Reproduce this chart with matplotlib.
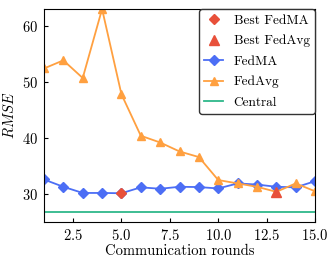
import matplotlib
matplotlib.use("Agg")
import matplotlib.pyplot as plt
import numpy as np

plt.rcParams['font.family'] = 'serif'
plt.rcParams['font.serif'] = ['cmr10']
plt.rcParams['mathtext.fontset'] = 'cm'
plt.rcParams['axes.formatter.use_mathtext'] = True
plt.rcParams['font.size'] = 10.5

rounds = list(range(1, 16))
fedma = [32.6, 31.3, 30.2, 30.2, 30.15, 31.2, 30.95, 31.3, 31.25, 31.0, 31.9, 31.7, 31.3, 31.2, 32.3]
fedavg = [52.4, 53.85, 50.7, 63.0, 47.8, 40.4, 39.2, 37.6, 36.6, 32.5, 31.9, 31.3, 30.4, 31.9, 30.5]
central = 26.8

best_ma = int(np.argmin(fedma))
best_avg = int(np.argmin(fedavg))

fig = plt.figure(figsize=(3.32, 2.66), dpi=100)
ax = fig.add_axes([0.1325, 0.165, 0.8165, 0.801])

ax.plot(rounds[best_ma], fedma[best_ma], 'D', color='#e8503a', ms=5.5, ls='none',
        label='Best FedMA', zorder=5)
ax.plot(rounds[best_avg], fedavg[best_avg], '^', color='#e8503a', ms=6.5, ls='none',
        label='Best FedAvg', zorder=5)
ax.plot(rounds, fedma, '-D', color='#4c6ef5', ms=5.5, lw=1.3, label='FedMA')
ax.plot(rounds, fedavg, '-^', color='#ffa040', ms=5.5, lw=1.3, label='FedAvg')
ax.axhline(central, color='#2eb88a', lw=1.3, label='Central')

ax.set_xlim(1, 15)
ax.set_ylim(25, 63)
ax.set_xticks([2.5, 5.0, 7.5, 10.0, 12.5, 15.0])
ax.set_yticks([30, 40, 50, 60])
ax.set_xlabel('Communication rounds', labelpad=1)
ax.set_ylabel('$RMSE$')
ax.tick_params(direction='in', length=3, pad=4)

leg = ax.legend(loc='upper right', borderaxespad=0, fancybox=True,
                framealpha=1, edgecolor='#333333', handlelength=1.4,
                fontsize=9.6, labelspacing=0.6)

fig.savefig('out.png', dpi=100)
